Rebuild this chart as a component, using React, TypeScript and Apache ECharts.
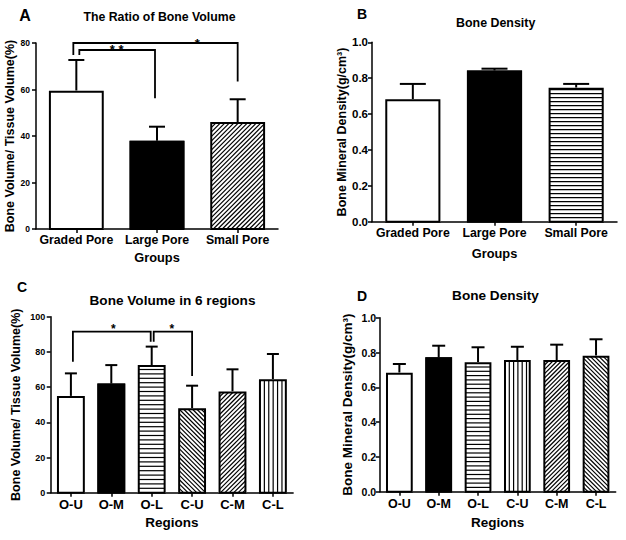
import React, { useEffect, useRef } from 'react';
import * as echarts from 'echarts';

// ---------- data ----------
const groups = ['Graded Pore', 'Large Pore', 'Small Pore'];
const regions = ['O-U', 'O-M', 'O-L', 'C-U', 'C-M', 'C-L'];

const ratioMean = [59.5, 38, 46];
const ratioErr = [13.2, 6, 9.8];

const densityMean = [0.682, 0.843, 0.747];
const densityErr = [0.086, 0.01, 0.021];

const regionVolMean = [55, 62, 72.5, 48, 57.5, 64.5];
const regionVolErr = [12.8, 10.5, 10.5, 12.8, 12.6, 14.3];

const regionDenMean = [0.684, 0.772, 0.744, 0.757, 0.757, 0.782];
const regionDenErr = [0.05, 0.067, 0.086, 0.076, 0.088, 0.094];

const ticksPct80 = [0, 20, 40, 60, 80];
const ticksPct100 = [0, 20, 40, 60, 80, 100];
const ticksDen = [0, 0.2, 0.4, 0.6, 0.8, 1.0];

// significance brackets: [fromIdx, toIdx, topValue, fromEndValue, toEndValue, starIdx]
const bracketsA = [
  [0, 2, 80, 74.8, 63.4, 1.5],
  [0, 1, 77, 74.8, 56.2, 0.5],
];
const bracketLabelsA = ['*', '* *'];
const bracketsC = [
  [0, 2, 91.5, 74.4, 85.8, 1.05],
  [2, 3, 91.5, 85.8, 66.3, 2.5],
];
const bracketLabelsC = ['*', '*'];

// ---------- styles ----------
const FONT = '"Liberation Sans", Arial, Helvetica, sans-serif';
const patternsA = ['empty', 'solid', 'fwd'];
const patternsB = ['empty', 'solid', 'horiz'];
const patternsC = ['empty', 'solid', 'horiz', 'back', 'fwd', 'vert'];
const patternsD = ['empty', 'solid', 'horiz', 'vert', 'fwd', 'back'];
const nudgeA = [[-3, 0], [3, -2]];
const nudgeC = [[2, -1], [2, 0]];

function hatchLines(pat: string, x0: number, y0: number, x1: number, y1: number, gap: number) {
  const out: number[][] = [];
  if (pat === 'horiz') {
    for (let y = y1 - gap; y > y0 + 1; y -= gap) out.push([x0, y, x1, y]);
  } else if (pat === 'vert') {
    for (let x = x0 + gap; x < x1 - 1; x += gap) out.push([x, y0, x, y1]);
  } else if (pat === 'fwd') {
    for (let k = x0 + y0 + gap; k < x1 + y1; k += gap) {
      const xa = Math.max(x0, k - y1);
      const xb = Math.min(x1, k - y0);
      if (xb > xa) out.push([xa, k - xa, xb, k - xb]);
    }
  } else if (pat === 'back') {
    for (let k = x0 - y1 + gap; k < x1 - y0; k += gap) {
      const xa = Math.max(x0, k + y0);
      const xb = Math.min(x1, k + y1);
      if (xb > xa) out.push([xa, xa - k, xb, xb - k]);
    }
  }
  return out;
}

function barRender(patterns: string[], ratio: number, capW: number, gap: number) {
  return (params: any, api: any) => {
    const i = api.value(0);
    const v = api.value(1);
    const e = api.value(2);
    const base = api.coord([i, 0]);
    const cx = base[0];
    const yb = base[1];
    const yt = api.coord([i, v])[1];
    const ye = api.coord([i, v + e])[1];
    const band = api.size([1, 0])[0];
    const w = band * ratio;
    const x0 = cx - w / 2;
    const x1 = cx + w / 2;
    const pat = patterns[i];
    const children: any[] = [];
    children.push({ type: 'line', shape: { x1: cx, y1: yt, x2: cx, y2: ye }, style: { stroke: '#000', lineWidth: 2 } });
    children.push({ type: 'line', shape: { x1: cx - capW / 2, y1: ye, x2: cx + capW / 2, y2: ye }, style: { stroke: '#000', lineWidth: 2 } });
    children.push({ type: 'rect', shape: { x: x0, y: yt, width: w, height: yb - yt }, style: { fill: pat === 'solid' ? '#000' : '#fff' } });
    hatchLines(pat, x0 + 1, yt + 1, x1 - 1, yb, gap).forEach((l) => {
      children.push({ type: 'line', shape: { x1: l[0], y1: l[1], x2: l[2], y2: l[3] }, style: { stroke: '#000', lineWidth: 1.2 } });
    });
    children.push({ type: 'rect', shape: { x: x0 + 1, y: yt + 1, width: w - 2, height: yb - yt - 1 }, style: { fill: 'none', stroke: '#000', lineWidth: 2 } });
    return { type: 'group', children };
  };
}

function bracketRender(brackets: number[][], labels: string[], nudges: number[][], starDy: number, starSize: number) {
  return (params: any, api: any) => {
    const b = brackets[params.dataIndex];
    const nd = nudges[params.dataIndex];
    const band = api.size([1, 0])[0];
    const pFrom = api.coord([b[0], b[2]]);
    const pTo = api.coord([b[1], b[2]]);
    const xa = pFrom[0] + nd[0];
    const xb = pTo[0] + nd[1];
    const yTop = pFrom[1];
    const yA = api.coord([b[0], b[3]])[1];
    const yB = api.coord([b[1], b[4]])[1];
    const xs = pFrom[0] + (b[5] - b[0]) * band;
    return {
      type: 'group',
      children: [
        { type: 'polyline', shape: { points: [[xa, yA], [xa, yTop], [xb, yTop], [xb, yB]] }, style: { stroke: '#000', lineWidth: 1.8, fill: 'none' } },
        { type: 'text', x: xs, y: yTop + starDy, style: { text: labels[params.dataIndex], fill: '#000', font: `bold ${starSize}px ${FONT}`, align: 'center', verticalAlign: 'middle' } },
      ],
    };
  };
}

function xAxisCfg(gridIndex: number, data: string[], name: string, fs: number, margin: number, nameFs: number, nameGap: number) {
  return {
    type: 'category',
    gridIndex,
    data,
    boundaryGap: true,
    axisLine: { show: true, lineStyle: { color: '#000', width: 1.5 } },
    axisTick: { show: true, alignWithLabel: true, length: 4, lineStyle: { color: '#000', width: 1.5 } },
    axisLabel: { color: '#000', fontWeight: 'bold', fontSize: fs, fontFamily: FONT, margin, interval: 0 },
    splitLine: { show: false },
    name,
    nameLocation: 'middle',
    nameGap,
    nameTextStyle: { color: '#000', fontWeight: 'bold', fontSize: nameFs, fontFamily: FONT },
  };
}

function yAxisCfg(gridIndex: number, ticks: number[], decimals: number, name: string, fs: number, margin: number, nameFs: number, nameGap: number) {
  return {
    type: 'value',
    gridIndex,
    min: ticks[0],
    max: ticks[ticks.length - 1],
    interval: ticks[1] - ticks[0],
    axisLine: { show: true, lineStyle: { color: '#000', width: 1.5 } },
    axisTick: { show: true, length: 4, lineStyle: { color: '#000', width: 1.5 } },
    axisLabel: { color: '#000', fontWeight: 'bold', fontSize: fs, fontFamily: FONT, margin, formatter: (v: number) => v.toFixed(decimals) },
    splitLine: { show: false },
    name,
    nameLocation: 'middle',
    nameGap,
    nameRotate: 90,
    nameTextStyle: { color: '#000', fontWeight: 'bold', fontSize: nameFs, fontFamily: FONT },
  };
}

function txt(text: string, x: number, y: number, size: number) {
  return { type: 'text', x, y, style: { text, fill: '#000', font: `bold ${size}px ${FONT}`, align: 'center', verticalAlign: 'middle' } };
}

export default function App() {
  const ref = useRef<HTMLDivElement>(null);
  useEffect(() => {
    if (!ref.current) return;
    const chart = echarts.init(ref.current, null, { renderer: 'svg' });
    const option: any = {
      animation: false,
      backgroundColor: '#fff',
      grid: [
        { left: 36, top: 43, width: 242, height: 186, outerBoundsMode: 'none' },
        { left: 372, top: 42.3, width: 245, height: 179.4, outerBoundsMode: 'none' },
        { left: 50.7, top: 316.7, width: 242.4, height: 176, outerBoundsMode: 'none' },
        { left: 379.7, top: 317.7, width: 236, height: 174, outerBoundsMode: 'none' },
      ],
      xAxis: [
        xAxisCfg(0, groups, 'Groups', 12.3, 5, 12.8, 22),
        xAxisCfg(1, groups, 'Groups', 12.3, 5.5, 12.8, 25),
        xAxisCfg(2, regions, 'Regions', 13, 5, 13.5, 22.5),
        xAxisCfg(3, regions, 'Regions', 12.5, 6, 13.5, 24),
      ],
      yAxis: [
        yAxisCfg(0, ticksPct80, 0, 'Bone Volume/ Tissue Volume(%)', 8.5, 6, 12.5, 17),
        yAxisCfg(1, ticksDen, 1, 'Bone Mineral Density(g/cm³)', 11.5, 4, 12.5, 23),
        yAxisCfg(2, ticksPct100, 0, 'Bone Volume/ Tissue Volume(%)', 9, 5.5, 12.5, 28),
        yAxisCfg(3, ticksDen, 1, 'Bone Mineral Density(g/cm³)', 10.5, 3.5, 13.5, 25),
      ],
      series: [
        { type: 'custom', xAxisIndex: 0, yAxisIndex: 0, renderItem: barRender(patternsA, 0.68, 16, 4.5), data: ratioMean.map((m, i) => [i, m, ratioErr[i]]), encode: { x: 0, y: 1 }, z: 2 },
        { type: 'custom', xAxisIndex: 1, yAxisIndex: 1, renderItem: barRender(patternsB, 0.675, 26, 4), data: densityMean.map((m, i) => [i, m, densityErr[i]]), encode: { x: 0, y: 1 }, z: 2 },
        { type: 'custom', xAxisIndex: 2, yAxisIndex: 2, renderItem: barRender(patternsC, 0.69, 12, 4.4), data: regionVolMean.map((m, i) => [i, m, regionVolErr[i]]), encode: { x: 0, y: 1 }, z: 2 },
        { type: 'custom', xAxisIndex: 3, yAxisIndex: 3, renderItem: barRender(patternsD, 0.68, 13, 4.3), data: regionDenMean.map((m, i) => [i, m, regionDenErr[i]]), encode: { x: 0, y: 1 }, z: 2 },
        { type: 'custom', xAxisIndex: 0, yAxisIndex: 0, renderItem: bracketRender(bracketsA, bracketLabelsA, nudgeA, 0, 13), data: bracketsA.map((b) => [b[0], b[2]]), encode: { x: 0, y: 1 }, z: 3 },
        { type: 'custom', xAxisIndex: 2, yAxisIndex: 2, renderItem: bracketRender(bracketsC, bracketLabelsC, nudgeC, -2.5, 12), data: bracketsC.map((b) => [b[0], b[2]]), encode: { x: 0, y: 1 }, z: 3 },
      ],
      graphic: [
        txt('A', 25, 15.5, 16),
        txt('B', 362, 13.5, 14),
        txt('C', 22, 287, 14),
        txt('D', 362, 295.5, 14),
        txt('The Ratio of Bone Volume', 159.5, 17.3, 12.3),
        txt('Bone Density', 495.7, 23.3, 12.4),
        txt('Bone Volume in 6 regions', 172.5, 300.5, 13.6),
        txt('Bone Density', 495.5, 295, 13.6),
      ],
    };
    chart.setOption(option);
    return () => chart.dispose();
  }, []);
  return <div ref={ref} style={{ position: 'fixed', left: 0, top: 0, width: 626, height: 540, background: '#fff' }} />;
}
